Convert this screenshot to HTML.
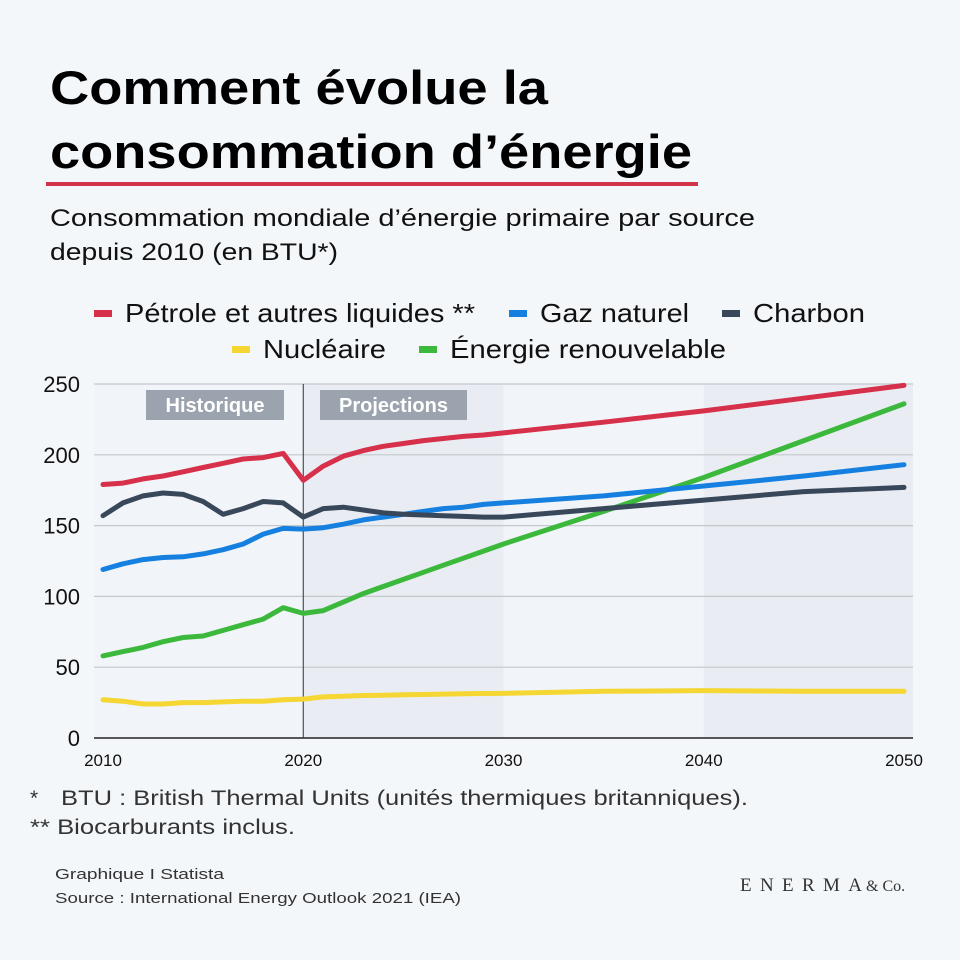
<!DOCTYPE html>
<html><head><meta charset="utf-8"><style>
html,body{margin:0;padding:0;background:#f4f7fa;}
svg{display:block;font-family:"Liberation Sans",sans-serif;}
</style></head><body>
<svg id="chart" width="960" height="960" viewBox="0 0 960 960">
<rect x="0" y="0" width="960" height="960" fill="#f4f7fa"/>
<text x="50" y="104" font-size="47" font-weight="bold" fill="#000" textLength="498" lengthAdjust="spacingAndGlyphs">Comment évolue la</text>
<text x="50" y="168" font-size="47" font-weight="bold" fill="#000" textLength="642" lengthAdjust="spacingAndGlyphs">consommation d’énergie</text>
<rect x="46" y="182" width="652" height="4" fill="#d0334a"/>
<text x="50" y="226" font-size="24" fill="#111" textLength="705" lengthAdjust="spacingAndGlyphs">Consommation mondiale d’énergie primaire par source</text>
<text x="50" y="260" font-size="24" fill="#111" textLength="288" lengthAdjust="spacingAndGlyphs">depuis 2010 (en BTU*)</text>
<g id="legend"></g>
<g id="plot"></g>
<text x="30" y="805" font-size="21" fill="#333">*</text>
<text x="61" y="805" font-size="21" fill="#333" textLength="687" lengthAdjust="spacingAndGlyphs">BTU : British Thermal Units (unités thermiques britanniques).</text>
<text x="30" y="834" font-size="21" fill="#333" textLength="265" lengthAdjust="spacingAndGlyphs">** Biocarburants inclus.</text>
<text x="55" y="879" font-size="15" fill="#333" textLength="169" lengthAdjust="spacingAndGlyphs">Graphique I Statista</text>
<text x="55" y="903" font-size="15" fill="#333" textLength="406" lengthAdjust="spacingAndGlyphs">Source : International Energy Outlook 2021 (IEA)</text>
<text x="740" y="891" font-size="19" fill="#333" font-family="Liberation Serif,serif" textLength="122" lengthAdjust="spacing">ENERMA</text>
<text x="866" y="891" font-size="16" fill="#333" font-family="Liberation Serif,serif">&amp; Co.</text>
</svg>
<script>
const years =      [2010,2011,2012,2013,2014,2015,2016,2017,2018,2019,2020,2021,2022,2023,2024,2025,2026,2027,2028,2029,2030,2035,2040,2045,2050];
const petrole =    [179,180,183,185,188,191,194,197,198,201,182,192,199,203,206,208,210,211.5,213,214,215.5,223,231,240,249];
const gaz =        [119,123,126,127.5,128,130,133,137,144,148,147.5,148.5,151,154,156,158,160,162,163,165,166,171,178,185,193];
const charbon =    [157,166,171,173,172,167,158,162,167,166,156,162,163,161,159,158,157.5,157,156.5,156,156,162,168,174,177];
const nucleaire =  [27,26,24,24,25,25,25.5,26,26,27,27.5,29,29.5,30,30.2,30.5,30.7,31,31.2,31.4,31.5,33,33.5,33,33];
const renouvelable=[58,61,64,68,71,72,76,80,84,92,88,90,96,102,107,112,117,122,127,132,137,160,184,210,236];
const yTicks = [0,50,100,150,200,250];
const xTicks = [2010,2020,2030,2040,2050];
const NS="http://www.w3.org/2000/svg";
const X0=103,X1=904,Y0=738,Y1=384;
function xs(v){return X0+(v-2010)/40*(X1-X0);}
function ys(v){return Y0-v/250*(Y0-Y1);}
function mk(tag,attrs,parent){const e=document.createElementNS(NS,tag);for(const k in attrs)e.setAttribute(k,attrs[k]);parent.appendChild(e);return e;}
const plot=document.getElementById('plot');
let r=mk('rect',{x:94,y:Y1,width:819,height:Y0-Y1,fill:'#f1f4f8'},plot);


let b1=mk('rect',{x:xs(2020),y:Y1,width:xs(2030)-xs(2020),height:Y0-Y1,fill:'#e9edf3'},plot);


let b2=mk('rect',{x:xs(2040),y:Y1,width:913-xs(2040),height:Y0-Y1,fill:'#e9edf3'},plot);


yTicks.forEach(t=>{
  if(t>0){let g=mk('line',{x1:94,x2:913,y1:ys(t),y2:ys(t),stroke:'#c4c8cd','stroke-width':1.2},plot);
  
  }
  let l=mk('text',{x:80,y:ys(t)+8,'font-size':22,fill:'#111','text-anchor':'end'},plot);
  l.textContent=t;
  
  
});
xTicks.forEach(t=>{
  let l=mk('text',{x:xs(t),y:766,'font-size':17,fill:'#111','text-anchor':'middle'},plot);
  l.textContent=t;
  
  
});
let ax=mk('line',{x1:94,x2:913,y1:Y0,y2:Y0,stroke:'#222','stroke-width':1.5},plot);


let vl=mk('line',{x1:xs(2020),x2:xs(2020),y1:Y1,y2:Y0,stroke:'#333','stroke-width':1},plot);


[['Historique',146,138,'historical-label'],['Projections',320,147,'projections-label']].forEach(([t,x,w,n])=>{
  let bx=mk('rect',{x:x,y:390,width:w,height:30,fill:'#9ba4ae'},plot);
  
  
  let tx=mk('text',{x:x+w/2,y:412,'font-size':20,'font-weight':'bold',fill:'#fff','text-anchor':'middle'},plot);
  tx.textContent=t;
  
  
});
const series=[['nucleaire',nucleaire,'#f5d632'],['renouvelable',renouvelable,'#3cb93c'],['gaz',gaz,'#1680e0'],['charbon',charbon,'#39475a'],['petrole',petrole,'#d6304a']];
series.forEach(([n,vals,c])=>{
  const d=vals.map((v,i)=>(i?'L':'M')+xs(years[i]).toFixed(1)+','+ys(v).toFixed(1)).join(' ');
  let p=mk('path',{d:d,fill:'none',stroke:c,'stroke-width':5,'stroke-linejoin':'round','stroke-linecap':'round'},plot);
  
  
});
const legend=document.getElementById('legend');
const legItems=[['Pétrole et autres liquides **','#d6304a',94,322,350],['Gaz naturel','#1680e0',509,322,149],['Charbon','#39475a',722,322,112],['Nucléaire','#f5d632',232,358,123],['Énergie renouvelable','#3cb93c',419,358,276]];
legItems.forEach(([t,c,x,y,w])=>{
  let s=mk('rect',{x:x,y:y-12,width:18,height:7,fill:c},legend);
  
  
  let tx=mk('text',{x:x+31,y:y,'font-size':26,fill:'#111',textLength:w,lengthAdjust:'spacingAndGlyphs'},legend);
  tx.textContent=t;
  
  
});
</script>
</body></html>
